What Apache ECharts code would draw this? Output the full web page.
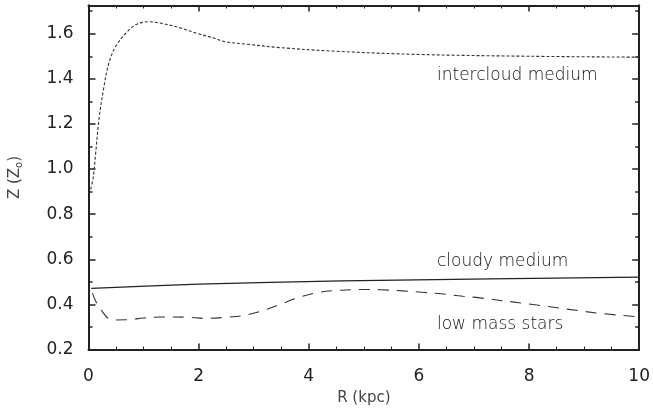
<!DOCTYPE html>
<html>
<head>
<meta charset="utf-8">
<script src="https://cdn.jsdelivr.net/npm/echarts@6/dist/echarts.min.js"></script>
<style>
  html, body { margin: 0; padding: 0; background: #fff; }
  #chart { width: 653px; height: 411px; }
</style>
</head>
<body>
<div id="chart"></div>
<script>
// Metallicity profiles Z(R) for three components
const intercloudR = [0.04, 0.09, 0.13, 0.19, 0.28, 0.37, 0.49, 0.67, 0.85, 1.09, 1.32, 1.69, 1.99, 2.29, 2.47, 2.89, 3.49, 4.5, 6.0, 8.0, 10.0];
const intercloudZ = [0.91, 0.97, 1.07, 1.22, 1.365, 1.47, 1.542, 1.60, 1.638, 1.653, 1.646, 1.624, 1.60, 1.58, 1.565, 1.553, 1.538, 1.522, 1.508, 1.500, 1.496];

const cloudyR = [0.05, 2.0, 4.6, 7.3, 10.0];
const cloudyZ = [0.471, 0.49, 0.504, 0.513, 0.521];

const starsR = [0.07, 0.15, 0.23, 0.36, 0.5, 0.72, 0.9, 1.3, 1.8, 2.1, 2.5, 2.85, 3.2, 3.5, 3.85, 4.2, 4.6, 5.0, 5.3, 5.7, 6.05, 6.4, 6.8, 7.1, 8.14, 9.3, 10.0];
const starsZ = [0.45, 0.405, 0.375, 0.338, 0.331, 0.332, 0.337, 0.344, 0.343, 0.338, 0.343, 0.352, 0.375, 0.402, 0.433, 0.454, 0.463, 0.466, 0.465, 0.46, 0.454, 0.447, 0.436, 0.429, 0.397, 0.36, 0.345];

const xTickLabels = ['0', '2', '4', '6', '8', '10'];
const yTickLabels = ['0.2', '0.4', '0.6', '0.8', '1.0', '1.2', '1.4', '1.6'];

const curveNames = ['intercloud medium', 'cloudy medium', 'low mass stars'];

const zip = (xs, ys) => xs.map((x, i) => [x, ys[i]]);

const ink = '#222';
const FONT = 'DejaVu Sans';

const X_MIN = 0, X_MAX = 10;
const Y_MIN = 0.2, Y_MAX = 1.725;

function xAxisDef(position, showLabels) {
  return {
    type: 'value', position: position, min: X_MIN, max: X_MAX, interval: 2,
    axisLine: { show: true, onZero: false, lineStyle: { color: ink, width: 2 } },
    axisTick: { show: true, inside: true, length: 6, lineStyle: { color: ink, width: 1.5 } },
    minorTick: { show: true, splitNumber: 4, length: 3, lineStyle: { color: ink, width: 1 } },
    splitLine: { show: false },
    axisLabel: {
      show: showLabels, margin: 19, color: ink, fontFamily: FONT, fontSize: 17,
      formatter: v => xTickLabels[Math.round(v / 2)] ?? ''
    },
    name: showLabels ? 'R (kpc)' : '',
    nameLocation: 'middle', nameGap: 41,
    nameTextStyle: { color: '#444', fontFamily: FONT, fontSize: 15 }
  };
}

function yAxisDef(position, major, showLabels, withName) {
  return {
    type: 'value', position: position, min: Y_MIN, max: Y_MAX,
    interval: major ? 0.2 : 0.1,
    axisLine: { show: true, onZero: false, lineStyle: { color: ink, width: 2 } },
    axisTick: { show: true, inside: true, length: major ? 7 : 4, lineStyle: { color: ink, width: 1.5 } },
    splitLine: { show: false },
    axisLabel: {
      show: showLabels, margin: 15, color: ink, fontFamily: FONT, fontSize: 17,
      showMaxLabel: false,
      formatter: v => {
        const i = Math.round((v - Y_MIN) / 0.2);
        return Math.abs(Y_MIN + i * 0.2 - v) < 1e-6 ? (yTickLabels[i] ?? '') : '';
      }
    },
    name: withName ? 'Z (Z{s|o})' : '',
    nameLocation: 'middle', nameGap: 64, nameRotate: 90,
    nameTextStyle: {
      color: '#444', fontFamily: FONT, fontSize: 15,
      rich: { s: { fontSize: 10, fontFamily: FONT, color: '#444', padding: [8, 0, 0, 0] } }
    }
  };
}

const chart = echarts.init(document.getElementById('chart'), null, { renderer: 'canvas' });

const noteStyle = text => ({ text: text, fill: '#111', font: '300 17px "DejaVu Sans"' });

chart.setOption({
  animation: false,
  backgroundColor: '#fff',
  grid: { left: 86, right: 11.5, top: 5.5, bottom: 61.5, containLabel: false },
  xAxis: [xAxisDef('bottom', true), xAxisDef('top', false)],
  yAxis: [
    yAxisDef('left', true, true, true),
    yAxisDef('left', false, false, false),
    yAxisDef('right', true, false, false),
    yAxisDef('right', false, false, false)
  ],
  series: [
    {
      name: curveNames[0], type: 'line', data: zip(intercloudR, intercloudZ),
      smooth: 0.35, symbol: 'none',
      lineStyle: { color: '#333', width: 1.1, type: [3, 2] }
    },
    {
      name: curveNames[1], type: 'line', data: zip(cloudyR, cloudyZ),
      smooth: 0.3, symbol: 'none',
      lineStyle: { color: ink, width: 1.2, type: 'solid' }
    },
    {
      name: curveNames[2], type: 'line', data: zip(starsR, starsZ),
      smooth: 0.35, symbol: 'none',
      lineStyle: { color: '#333', width: 1.1, type: [11, 8] }
    }
  ],
  graphic: [
    { type: 'text', left: 437, top: 67, style: noteStyle(curveNames[0]) },
    { type: 'text', left: 437, top: 253, style: noteStyle(curveNames[1]) },
    { type: 'text', left: 437, top: 316, style: noteStyle(curveNames[2]) }
  ]
});
</script>
</body>
</html>
